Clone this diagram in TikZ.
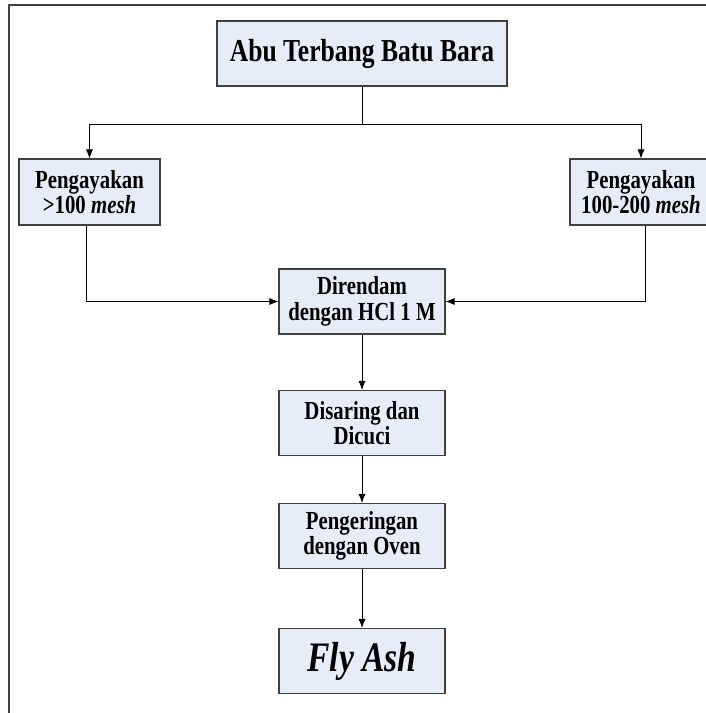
\documentclass[tikz,border=0pt]{standalone}
\usepackage{fontspec}
\setmainfont[FakeStretch=0.8]{Liberation Serif}
\usepackage{xcolor}
\usepackage{tikz}
\usetikzlibrary{arrows.meta,positioning,calc}
\definecolor{kotakbiru}{HTML}{E7EDF7}
\definecolor{garisabu}{HTML}{404040}

\begin{document}
\begin{tikzpicture}[x=1pt, y=-1pt,
        proses/.style={draw=garisabu, fill=kotakbiru, line width=1.1pt, align=center,
            minimum width=166pt, minimum height=65pt, inner sep=0pt,
            font=\fontsize{26}{25.5}\selectfont\bfseries},
        >={Latex[length=9pt,width=7pt]}]
        \useasboundingbox (0,0) rectangle (705,713);

        % Frame
        \draw[garisabu, line width=1.5pt] (9,713) -- (9,5) -- (706,5);

        % Top box
        \node[proses, minimum width=290pt, font=\fontsize{32}{34}\selectfont\bfseries]
            (abu) at (362,53.5) {Abu Terbang Batu Bara};

        % Sieving boxes
        \node[proses, minimum width=141pt, minimum height=66pt]
            (ayak1) at (89.5,192) {Pengayakan\\>100 \textit{mesh}};
        \node[proses, minimum width=142pt, minimum height=66pt]
            (ayak2) at (641,192) {Pengayakan\\100-200 \textit{mesh}};

        % Process chain
        \node[proses] (rendam) at (362,301.5) {Direndam\\dengan HCl 1 M};
        \node[proses] (saring) at (362,423) {Disaring dan\\Dicuci};
        \node[proses] (kering) at (362,536) {Pengeringan\\dengan Oven};
        \node[proses, font=\fontsize{42}{44}\selectfont\bfseries\itshape]
            (fly) at (362,661) {Fly Ash};

        % Arrows
        \coordinate (cabang) at (362,124);
        \draw[line width=0.8pt] (abu.south) -- (cabang);
        \draw[->, line width=0.8pt] (cabang) -| (ayak1.north);
        \draw[->, line width=0.8pt] (cabang) -| (ayak2.north);
        \draw[->, line width=0.8pt] ([xshift=-3.5pt]ayak1.south) |- (rendam.west);
        \draw[->, line width=0.8pt] ([xshift=4pt]ayak2.south) |- (rendam.east);
        \foreach \a/\b in {rendam/saring, saring/kering, kering/fly} {
            \draw[->, line width=0.8pt] (\a.south) -- (\b.north);
        }
    \end{tikzpicture}
\end{document}
